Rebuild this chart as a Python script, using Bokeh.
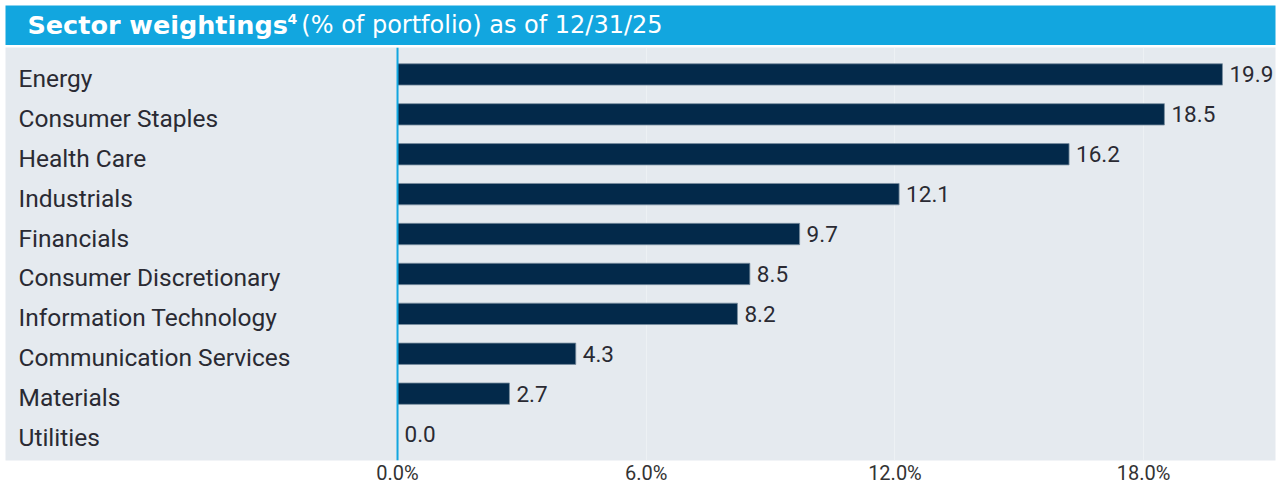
from bokeh.plotting import figure
from bokeh.models import ColumnDataSource, Range1d, FactorRange, FixedTicker, PrintfTickFormatter, Span
from bokeh.layouts import column
from bokeh.core.properties import value
from bokeh.embed import file_html
from bokeh.resources import INLINE

# ---- data ----
categories = ["Energy", "Consumer Staples", "Health Care", "Industrials", "Financials",
              "Consumer Discretionary", "Information Technology", "Communication Services",
              "Materials", "Utilities"]
weights = [19.9, 18.5, 16.2, 12.1, 9.7, 8.5, 8.2, 4.3, 2.7, 0.0]
tick_values = [0, 6, 12, 18]
title_bold = "Sector weightings"
title_sup = "4"
title_rest = "(% of portfolio) as of 12/31/25"

BLUE = "#12a6df"
NAVY = "#03294a"
GREY = "#e5eaef"
TEXT = "#2a2a33"
FONT = "Roboto"

W = 1280
XMIN, XMAX = -9.457, 21.18

# ---- title bar (coordinates in page pixels) ----
t = figure(width=W, height=45, x_range=Range1d(5, W), y_range=Range1d(45, 5),
           x_axis_location=None, y_axis_location=None, toolbar_location=None,
           title_location=None, output_backend="svg",
           min_border_left=5, min_border_top=5, min_border_right=0, min_border_bottom=0)
t.background_fill_color = BLUE
t.border_fill_color = "white"
t.outline_line_color = None
t.grid.visible = False
t.text(x=[27], y=[24], text=[title_bold], text_color="white", text_font=value("DejaVu Sans"),
       text_font_style="bold", text_font_size="25.5px", text_baseline="middle")
t.text(x=[288], y=[18.5], text=[title_sup], text_color="white", text_font=value("DejaVu Sans"),
       text_font_style="bold", text_font_size="14px", text_baseline="middle")
t.text(x=[302], y=[24], text=[title_rest], text_color="white", text_font=value("DejaVu Sans"),
       text_font_size="24px", text_baseline="middle")

# ---- chart ----
src = ColumnDataSource(dict(
    cat=categories,
    val=weights,
    lab=["%.1f" % v for v in weights],
    lx=[XMIN] * len(categories),
))

p = figure(width=W, height=442, x_range=Range1d(XMIN, XMAX),
           y_range=FactorRange(factors=categories[::-1], range_padding=0.175,
                               range_padding_units="absolute"),
           y_axis_location=None, toolbar_location=None, title_location=None,
           output_backend="svg",
           min_border_left=5, min_border_right=5, min_border_top=2, min_border_bottom=0)
p.background_fill_color = GREY
p.border_fill_color = "white"
p.outline_line_color = None

p.hbar(y="cat", right="val", left=0, height=0.535, source=src,
       fill_color=NAVY, line_color="#7a8ea0", line_width=0.8)

p.add_layout(Span(location=0, dimension="height", line_color=BLUE, line_width=2))

p.text(x="lx", y="cat", text="cat", source=src, x_offset=13, y_offset=4,
       text_font=value(FONT), text_font_size="24.5px", text_color=TEXT,
       text_baseline="middle", text_align="left")
p.text(x="val", y="cat", text="lab", source=src, x_offset=7,
       text_font=value(FONT), text_font_size="22.5px", text_color=TEXT,
       text_baseline="middle", text_align="left")

p.xaxis.ticker = FixedTicker(ticks=tick_values)
p.xaxis.formatter = PrintfTickFormatter(format="%.1f%%")
p.xaxis.axis_line_color = None
p.xaxis.major_tick_line_color = None
p.xaxis.minor_tick_line_color = None
p.xaxis.major_tick_out = 0
p.xaxis.major_tick_in = 0
p.xaxis.minor_tick_out = 0
p.xaxis.minor_tick_in = 0
p.xaxis.major_label_standoff = 0
p.xaxis.major_label_text_font = FONT
p.xaxis.major_label_text_font_size = "20px"
p.xaxis.major_label_text_color = "#333333"
p.xgrid.ticker = FixedTicker(ticks=tick_values)
p.xgrid.grid_line_color = "#edf1f4"
p.xgrid.grid_line_width = 1
p.ygrid.visible = False

layout = column(t, p, spacing=0)
open("out.html", "w").write(file_html(layout, INLINE))
